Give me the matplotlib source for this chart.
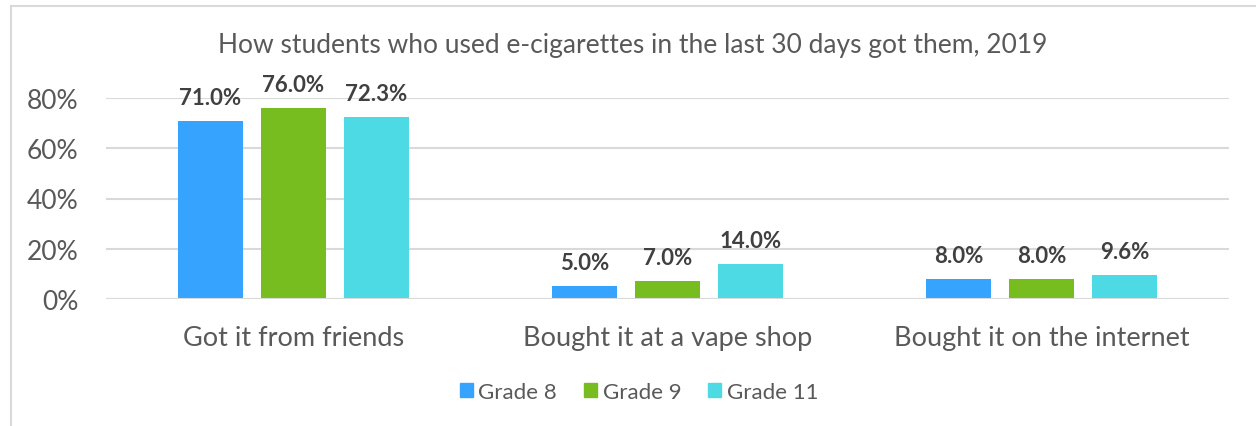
import matplotlib
matplotlib.use("Agg")
import matplotlib.pyplot as plt
import numpy as np
from matplotlib.lines import Line2D
from matplotlib.patches import Patch

categories = ["Got it from friends", "Bought it at a vape shop", "Bought it on the internet"]
series_names = ["Grade 8", "Grade 9", "Grade 11"]
grade8 = [0.710, 0.050, 0.080]
grade9 = [0.760, 0.070, 0.080]
grade11 = [0.723, 0.140, 0.096]
yticks = [0, 0.2, 0.4, 0.6, 0.8]
ytick_labels = ["0%", "20%", "40%", "60%", "80%"]
title = "How students who used e-cigarettes in the last 30 days got them, 2019"

colors = ["#36A3FF", "#78BD20", "#4DDAE5"]
text_color = "#595959"
grid_color = "#D9D9D9"
plt.rcParams['font.family'] = ['Lato', 'DejaVu Sans']

fig = plt.figure(figsize=(12.56, 4.27), dpi=100)
ax = fig.add_axes([106/1256, (427-300)/427, (1229-106)/1256, (300-99)/427])

x = np.arange(len(categories))
bw = 65/374.3
step = 83/374.3
for i, (vals, name) in enumerate(zip([grade8, grade9, grade11], series_names)):
    pos = x + (i-1)*step
    ax.bar(pos, vals, width=bw, color=colors[i], label=name, zorder=3)
    for p, v in zip(pos, vals):
        ax.annotate(f"{v*100:.1f}%", (p, v), xytext=(0, 17), textcoords="offset points",
                    ha="center", va="center", fontsize=16, fontweight="bold",
                    color="#404040", annotation_clip=False)

ax.set_xlim(-0.5, 2.5)
ax.set_ylim(0, 0.8)
ax.set_yticks(yticks)
ax.set_yticklabels(ytick_labels)
ax.set_xticks(x)
ax.set_xticklabels(categories)
ax.tick_params(axis='y', length=0, pad=20, labelsize=19, labelcolor=text_color)
ax.tick_params(axis='x', length=0, pad=19, labelsize=19.5, labelcolor=text_color)
ax.grid(axis='y', color=grid_color, linewidth=1.5, zorder=0)
for s in ax.spines.values():
    s.set_visible(False)
ax.axhline(0, color=grid_color, linewidth=1.5, zorder=4)

fig.text(633/1256, 1-45/427, title, ha="center", va="center", fontsize=19, color=text_color)

handles = [Patch(color=c) for c in colors]
fig.legend(handles, series_names, loc="center", bbox_to_anchor=(639/1256, 1-393/427),
           ncol=3, frameon=False, fontsize=16, labelcolor=text_color,
           handlelength=0.6, handleheight=0.6, handletextpad=0.25, columnspacing=1.2)

# chart border (partial)
fig.add_artist(Line2D([11/1256, 11/1256], [0, 1-7/427], color=grid_color, linewidth=1.5, transform=fig.transFigure))
fig.add_artist(Line2D([11/1256, 1], [1-7/427, 1-7/427], color=grid_color, linewidth=1.5, transform=fig.transFigure))

fig.savefig("out.png", dpi=100)
